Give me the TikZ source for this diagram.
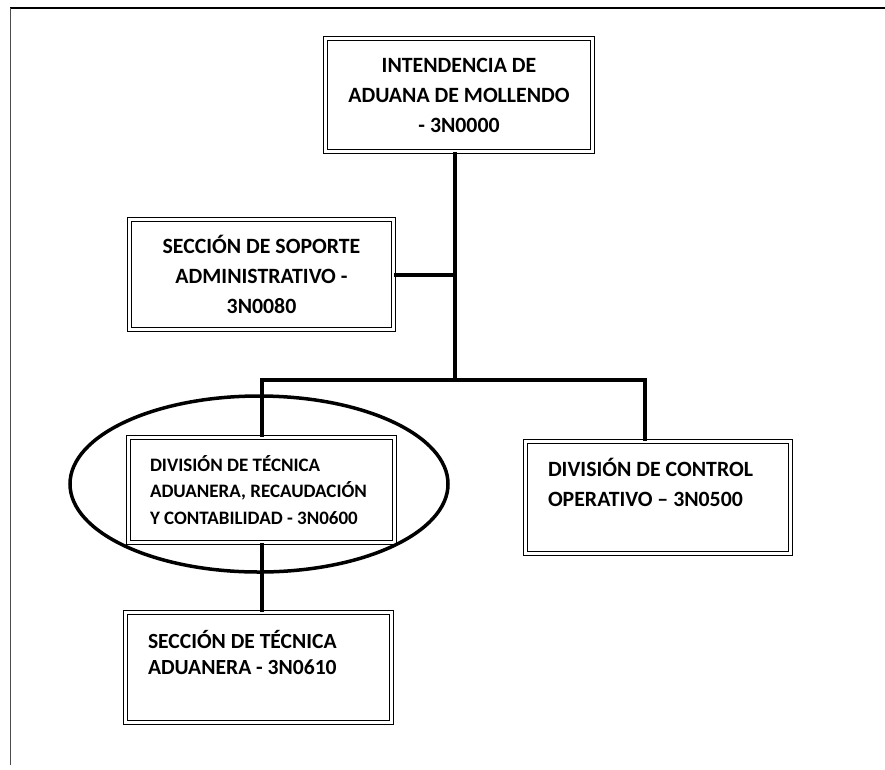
\documentclass[tikz,border=0pt]{standalone}
\usepackage{fontspec}
\setmainfont{Carlito}
\usetikzlibrary{shapes.geometric}

\begin{document}
\begin{tikzpicture}[x=1pt,y=-1pt,
  unidad/.style={draw, double, double distance=2.5pt, line width=1.2pt, fill=white, inner sep=0pt,
    font=\fontsize{21.8}{30}\selectfont\bfseries},
  enlace/.style={line width=4pt}]
\useasboundingbox (0,0) rectangle (885,769);
% marco
\draw[line width=1.6pt] (10,8) -- (885,8);
\draw[line width=0.8pt, black!70] (10,8) -- (10,765);

\node[unidad, align=center, minimum width=267, minimum height=113] (IAM) at (459,95)
  {INTENDENCIA DE\\ADUANA DE MOLLENDO\\- 3N0000};
\node[unidad, align=center, minimum width=264, minimum height=110] (SSA) at (261.5,274.5)
  {SECCIÓN DE SOPORTE\\ADMINISTRATIVO -\\3N0080};
\node[unidad, align=flush left, text width=223, minimum width=266, minimum height=105,
  font=\fontsize{19}{26.5}\selectfont\bfseries] (DTA) at (261.5,490)
  {DIVISIÓN DE TÉCNICA\\ADUANERA, RECAUDACIÓN\\Y CONTABILIDAD - 3N0600};
\node[unidad, align=flush left, text width=220, minimum width=265, minimum height=112] (DCO) at (658,497.5)
  {DIVISIÓN DE CONTROL\\OPERATIVO – 3N0500\\\mbox{}};
\node[unidad, align=flush left, text width=221, minimum width=266, minimum height=110,
  font=\fontsize{21.6}{26}\selectfont\bfseries] (STA) at (258.5,667.5)
  {SECCIÓN DE TÉCNICA\\ADUANERA - 3N0610\\[4pt]\mbox{}};

\coordinate (T) at (455,380);
\draw[enlace] (IAM.south -| T) -- (T);
\draw[enlace] (SSA.east) -- (SSA.east -| T);
\draw[enlace] (DTA.north) |- (T);
\draw[enlace] ([xshift=-13]DCO.north) |- (T);
\draw[enlace] (DTA.south) -- (DTA.south |- STA.north);

% resaltado
\node[draw, ellipse, line width=3.5pt, minimum width=378, minimum height=176, inner sep=0pt] (FOCO) at (259,484) {};
\end{tikzpicture}
\end{document}
